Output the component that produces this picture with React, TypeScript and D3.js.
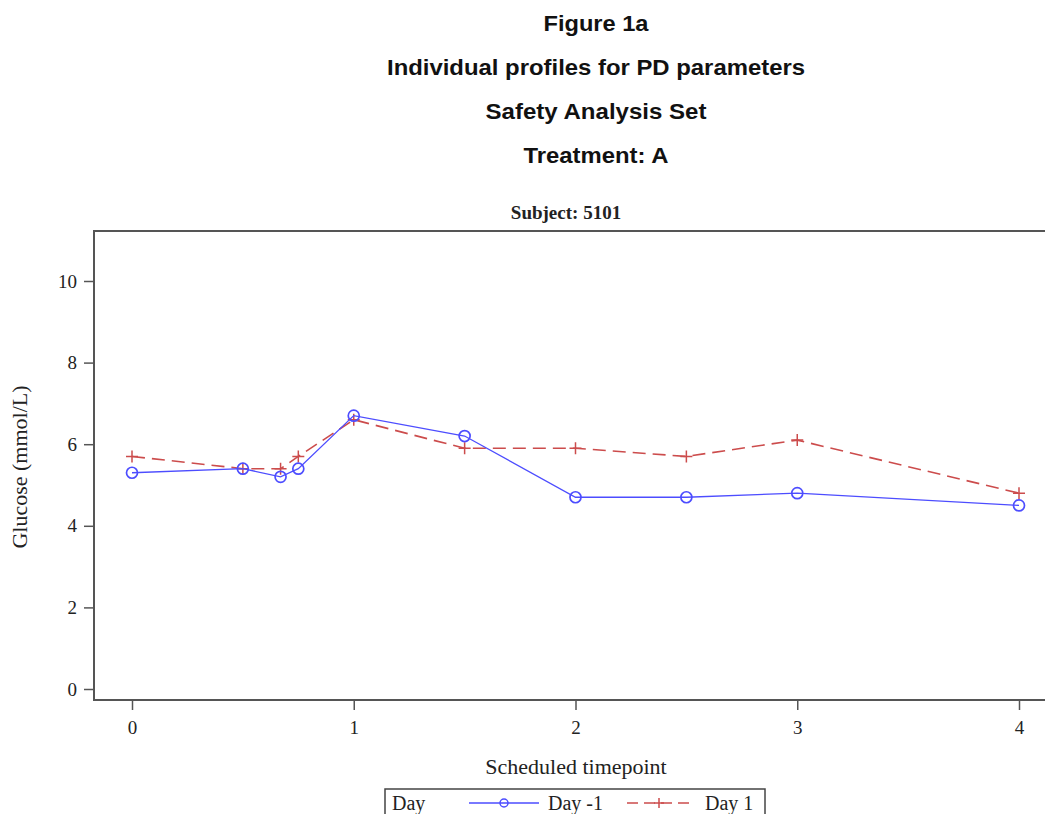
import { useEffect, useRef } from 'react';
import * as d3 from 'd3';

const titles = ['Figure 1a', 'Individual profiles for PD parameters', 'Safety Analysis Set', 'Treatment: A'];
const titleWidths = [105, 418, 221, 145];
const timepoints = [0, 0.5, 0.67, 0.75, 1, 1.5, 2, 2.5, 3, 4];
const dayMinus1 = [5.3, 5.4, 5.2, 5.4, 6.7, 6.2, 4.7, 4.7, 4.8, 4.5];
const day1 = [5.7, 5.4, 5.4, 5.7, 6.6, 5.9, 5.9, 5.7, 6.1, 4.8];
const xTicks = [0, 1, 2, 3, 4];
const yTicks = [0, 2, 4, 6, 8, 10];

const W = 1045;
const H = 814;
const serif = '"Liberation Serif", "Times New Roman", serif';
const sans = '"Liberation Sans", Arial, sans-serif';
const BLUE = '#4d4dff';
const RED = '#cc4c4c';

export default function App() {
  const svgRef = useRef<SVGSVGElement>(null);

  useEffect(() => {
    if (!svgRef.current) return;
    const svg = d3.select(svgRef.current);
    svg.selectAll('*').remove();

    // plot frame edges
    const left = 94, top = 231, bottom = 700, right = W + 10;

    const x = d3.scaleLinear().domain([0, 4]).range([132, 1019]);
    const y = d3.scaleLinear().domain([0, 10]).range([689, 281]);

    // titles
    svg.selectAll('.title')
      .data(titles)
      .enter()
      .append('text')
      .attr('x', 596)
      .attr('y', (_, i) => 30.5 + i * 44.3)
      .attr('text-anchor', 'middle')
      .attr('font-family', sans)
      .attr('font-weight', 'bold')
      .attr('font-size', 22.5)
      .attr('textLength', (_, i) => titleWidths[i])
      .attr('lengthAdjust', 'spacingAndGlyphs')
      .attr('fill', '#111')
      .text(d => d);

    svg.append('text')
      .attr('x', 566)
      .attr('y', 219)
      .attr('text-anchor', 'middle')
      .attr('font-family', serif)
      .attr('font-weight', 'bold')
      .attr('font-size', 19)
      .attr('fill', '#222')
      .text('Subject: 5101');

    // frame
    svg.append('rect')
      .attr('x', left)
      .attr('y', top)
      .attr('width', right - left)
      .attr('height', bottom - top)
      .attr('fill', 'none')
      .attr('stroke', '#555')
      .attr('stroke-width', 2);

    // y axis
    const yAxis = d3.axisLeft(y).tickValues(yTicks).tickSize(9).tickPadding(7);
    const gy = svg.append('g').attr('transform', `translate(${left - 1},0)`).call(yAxis);
    gy.select('.domain').remove();
    gy.selectAll('line').attr('stroke', '#555').attr('stroke-width', 1.5);
    gy.selectAll('text').attr('font-family', serif).attr('font-size', 19).attr('fill', '#222');

    // x axis
    const xAxis = d3.axisBottom(x).tickValues(xTicks).tickSize(9).tickPadding(11).tickFormat(d3.format('d'));
    const gx = svg.append('g').attr('transform', `translate(0,${bottom + 1})`).call(xAxis);
    gx.select('.domain').remove();
    gx.selectAll('line').attr('stroke', '#555').attr('stroke-width', 1.5);
    gx.selectAll('text').attr('font-family', serif).attr('font-size', 19).attr('fill', '#222');

    svg.append('text')
      .attr('x', 576)
      .attr('y', 774)
      .attr('text-anchor', 'middle')
      .attr('font-family', serif)
      .attr('font-size', 22)
      .attr('fill', '#222')
      .text('Scheduled timepoint');

    svg.append('text')
      .attr('transform', `translate(27,467) rotate(-90)`)
      .attr('text-anchor', 'middle')
      .attr('font-family', serif)
      .attr('font-size', 22)
      .attr('fill', '#222')
      .text('Glucose (mmol/L)');

    const line = d3.line<number>()
      .x((_, i) => x(timepoints[i]))
      .y(d => y(d));

    const plot = svg.append('g');

    // Day 1 (red dashed, plus markers)
    plot.append('path')
      .attr('d', line(day1))
      .attr('fill', 'none')
      .attr('stroke', RED)
      .attr('stroke-width', 1.6)
      .attr('stroke-dasharray', '13,7');

    const plus = (g: d3.Selection<SVGGElement, unknown, null, undefined>, cx: number, cy: number, s: number) => {
      g.append('path')
        .attr('d', `M${cx - s},${cy}H${cx + s}M${cx},${cy - s}V${cy + s}`)
        .attr('stroke', RED)
        .attr('stroke-width', 1.5)
        .attr('fill', 'none');
    };
    day1.forEach((v, i) => plus(plot, x(timepoints[i]), y(v), 6));

    // Day -1 (blue solid, circle markers)
    plot.append('path')
      .attr('d', line(dayMinus1))
      .attr('fill', 'none')
      .attr('stroke', BLUE)
      .attr('stroke-width', 1.3);

    plot.selectAll('.pt')
      .data(dayMinus1)
      .enter()
      .append('circle')
      .attr('cx', (_, i) => x(timepoints[i]))
      .attr('cy', d => y(d))
      .attr('r', 5.5)
      .attr('fill', 'none')
      .attr('stroke', BLUE)
      .attr('stroke-width', 1.7);

    // legend
    const lg = svg.append('g');
    lg.append('rect')
      .attr('x', 385)
      .attr('y', 789)
      .attr('width', 380)
      .attr('height', 40)
      .attr('fill', 'none')
      .attr('stroke', '#444')
      .attr('stroke-width', 1.5);
    const ly = 803;
    const legendText = (tx: number, s: string) =>
      lg.append('text').attr('x', tx).attr('y', ly + 7).attr('font-family', serif).attr('font-size', 20).attr('fill', '#222').text(s);
    legendText(392, 'Day');
    lg.append('line').attr('x1', 469).attr('x2', 539).attr('y1', ly).attr('y2', ly).attr('stroke', BLUE).attr('stroke-width', 1.3);
    lg.append('circle').attr('cx', 504).attr('cy', ly).attr('r', 4).attr('fill', 'none').attr('stroke', BLUE).attr('stroke-width', 1.5);
    legendText(548, 'Day -1');
    lg.append('line').attr('x1', 627).attr('x2', 695).attr('y1', ly).attr('y2', ly).attr('stroke', RED).attr('stroke-width', 1.5).attr('stroke-dasharray', '11,6');
    plus(lg, 659, ly, 5);
    legendText(705, 'Day 1');
  }, []);

  return (
    <svg
      ref={svgRef}
      width={W}
      height={H}
      style={{ position: 'absolute', left: 0, top: 0, background: '#fff' }}
    />
  );
}
